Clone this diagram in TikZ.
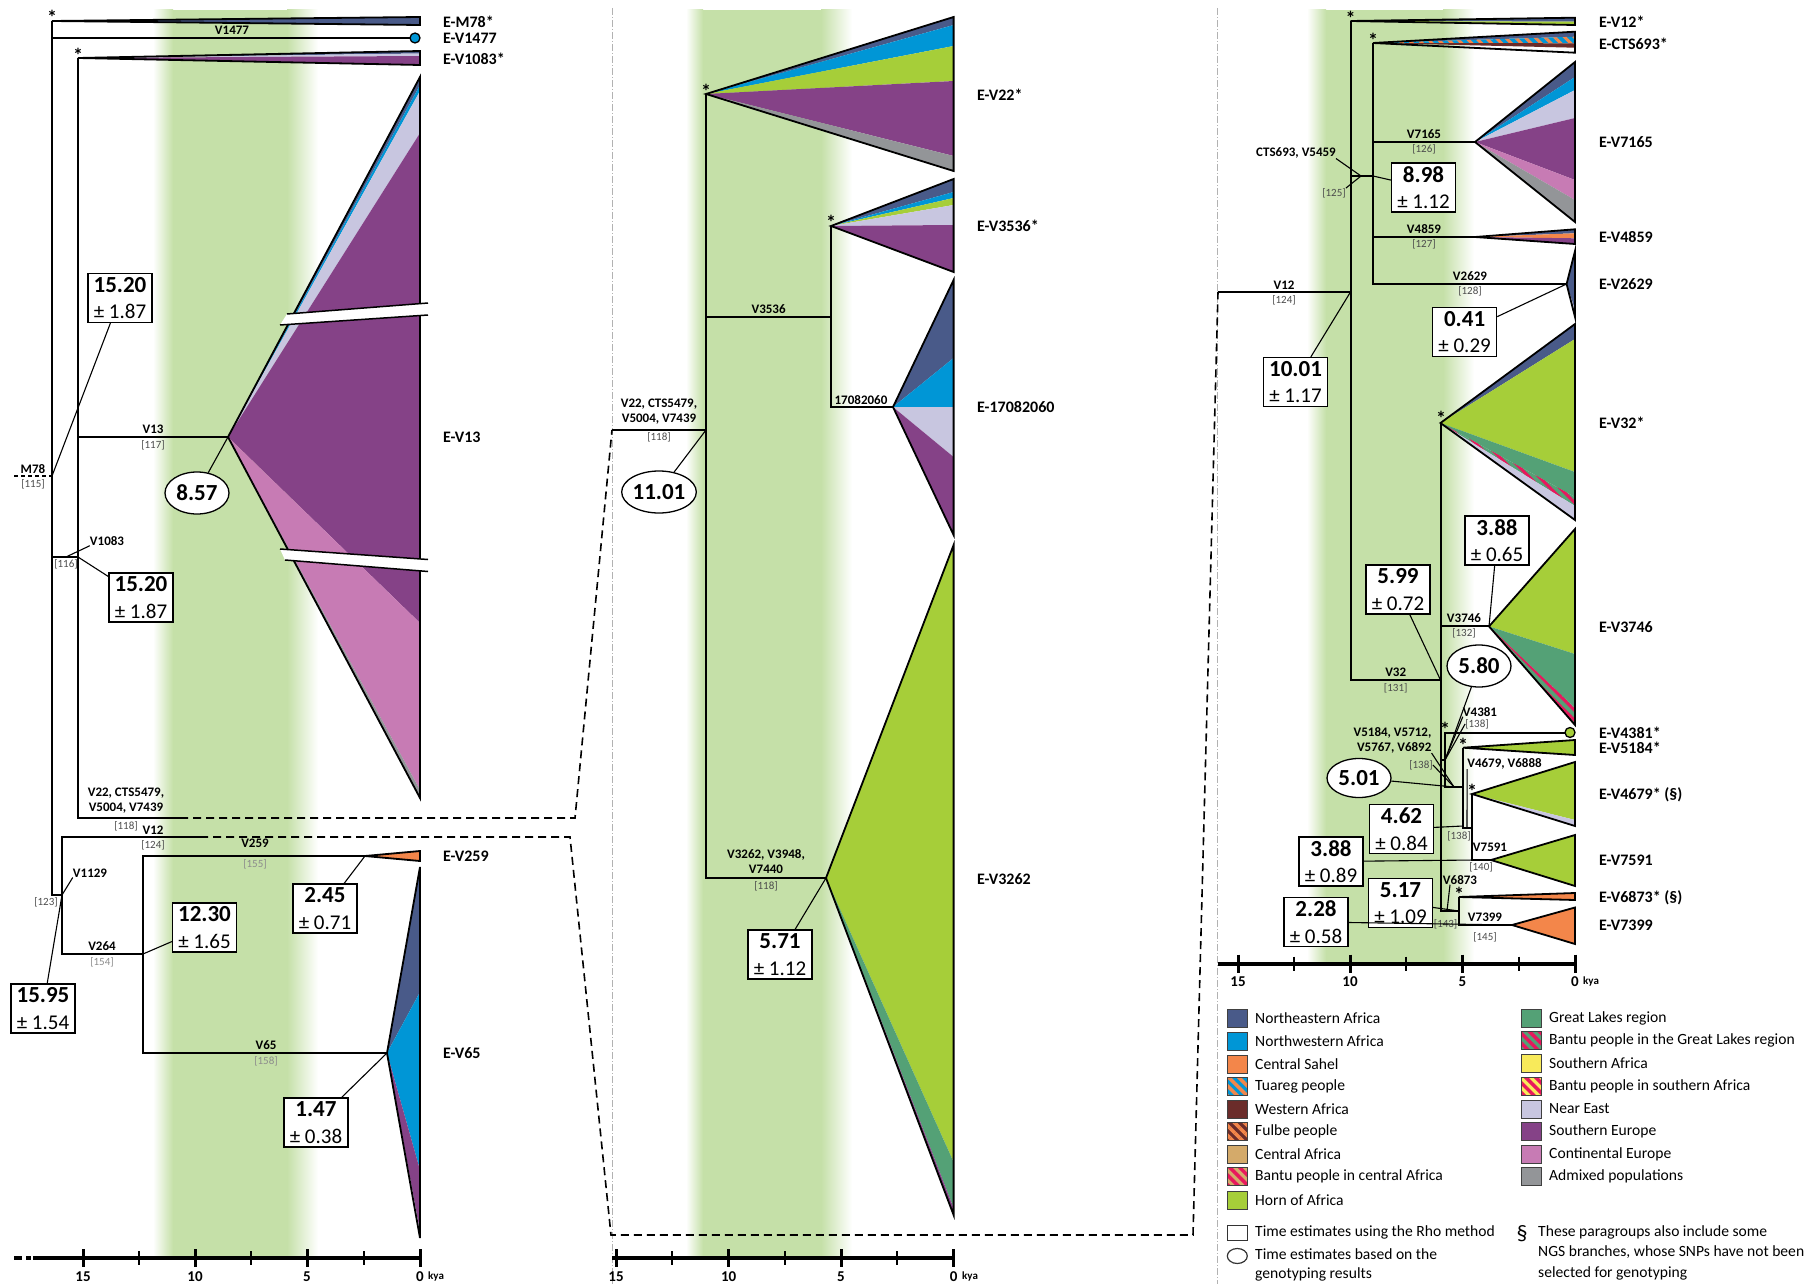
\documentclass[tikz,border=0pt]{standalone}
\usepackage{fontspec}
\setmainfont{Carlito}
\usetikzlibrary{shapes.geometric,patterns.meta}
\definecolor{cNE}{RGB}{73,90,137}
\definecolor{cNW}{RGB}{0,150,214}
\definecolor{cCS}{RGB}{243,134,74}
\definecolor{cWA}{RGB}{107,44,42}
\definecolor{cCA}{RGB}{212,170,106}
\definecolor{cHA}{RGB}{166,206,57}
\definecolor{cGL}{RGB}{84,161,118}
\definecolor{cRED}{RGB}{232,23,93}
\definecolor{cSA}{RGB}{248,234,90}
\definecolor{cNEa}{RGB}{200,198,224}
\definecolor{cSE}{RGB}{133,66,135}
\definecolor{cCE}{RGB}{199,123,180}
\definecolor{cAD}{RGB}{147,149,152}
\definecolor{gband}{RGB}{197,224,168}
\newcommand\fanp[6]{\fill[#1] (#2,#3) -- (#4,#5) -- (#4,#6) -- cycle;}
\newcommand\fanpat[7]{\fill[#1, postaction={pattern={Lines[angle=-45,distance=7pt,line width=3pt]}, pattern color=#2}] (#3,#4) -- (#5,#6) -- (#5,#7) -- cycle;}
\newcommand\fano[5]{\draw[tri] (#3,#4) -- (#1,#2) -- (#3,#5) -- cycle;}
\newcommand\agetxt[2]{{\bfseries\fontsize{23}{26.5}\selectfont #1}\\± #2}
\tikzset{
 br/.style={line width=2pt},
 dsh/.style={line width=1.6pt, dash pattern=on 8pt off 5pt},
 lead/.style={line width=1.1pt},
 tri/.style={line width=1.8pt, line join=miter},
 blab/.style={font=\fontsize{13}{14}\selectfont\bfseries, inner sep=0pt, align=center},
 rlab/.style={font=\fontsize{11}{12}\selectfont, text=black!70, inner sep=0pt},
 glab/.style={font=\fontsize{11}{12}\selectfont, text=black!45, inner sep=0pt},
 tiplab/.style={font=\fontsize{16}{17}\selectfont\bfseries, anchor=west, inner sep=0pt},
 starlab/.style={font=\fontsize{20}{20}\selectfont\bfseries, inner sep=0pt},
 agebox/.style={draw, line width=1.3pt, fill=white, minimum width=64pt, minimum height=49pt, inner sep=0pt, align=center, font=\fontsize{21}{26.5}\selectfont},
 ageell/.style={ellipse, draw, line width=1.3pt, fill=white, minimum width=64pt, minimum height=42pt, inner sep=0pt, font=\fontsize{23}{24}\selectfont\bfseries},
 axl/.style={font=\fontsize{15}{16}\selectfont\bfseries, inner sep=0pt},
 kyal/.style={font=\fontsize{11}{12}\selectfont\bfseries, inner sep=0pt, anchor=west},
 legt/.style={font=\fontsize{15.6}{17}\selectfont, anchor=west, inner sep=0pt},
 sw/.style={draw=black!75, line width=1pt, minimum width=19.5pt, minimum height=18pt, inner sep=0pt},
 swp/.style 2 args={minimum width=19.5pt, minimum height=18pt, inner sep=0pt, fill=#1, postaction={pattern={Lines[angle=-45,distance=7pt,line width=3.5pt]}, pattern color=#2}, postaction={draw=black!75,line width=1pt}},
 sep/.style={draw=black!30, line width=1pt, dash pattern=on 7pt off 2pt on 1pt off 2pt},
 axis/.style={line width=4pt},
 majt/.style={line width=3pt},
 mint/.style={line width=2pt},
}
\begin{document}
\begin{tikzpicture}[x=1pt,y=-1pt]
\useasboundingbox (0,0) rectangle (1816,1284);
% ---------- green bands ----------
\shade[left color=white, right color=gband] (153,10) rectangle (173,1258);
\fill[gband] (173,10) rectangle (287,1258);
\shade[left color=gband, right color=white] (287,10) rectangle (318,1258);
\shade[left color=white, right color=gband] (686,10) rectangle (703,1258);
\fill[gband] (703,10) rectangle (821,1258);
\shade[left color=gband, right color=white] (821,10) rectangle (852,1258);
\shade[left color=white, right color=gband] (1307,10) rectangle (1326,963);
\fill[gband] (1326,10) rectangle (1443,963);
\shade[left color=gband, right color=white] (1443,10) rectangle (1474,963);
% separators
\draw[sep] (612.5,8) -- (612.5,1284);
\draw[sep] (1217.7,8) -- (1217.7,1284);
% ---------- coordinates ----------
\coordinate (nM78) at (52,476);
\coordinate (sM78) at (14,476);
\coordinate (aM78) at (52,21);
\coordinate (eV1477) at (412,38);
\coordinate (nV1083) at (78,557);
\coordinate (m1083) at (66,557);
\coordinate (aV1083) at (78,58);
\coordinate (nV13) at (228,437);
\coordinate (dV22) at (78,818);
\coordinate (sV22) at (180,818);
\coordinate (kV22) at (575,818);
\coordinate (nV1129) at (62,895);
\coordinate (dV12) at (62,837);
\coordinate (sV12) at (200,837);
\coordinate (kV12a) at (570,837);
\coordinate (kV12b) at (611,1235);
\coordinate (kV12c) at (1193,1235);
\coordinate (nV264) at (143,954);
\coordinate (nV259) at (365,856);
\coordinate (nV65) at (387,1053);
\coordinate (nV22in) at (612,430);
\coordinate (nV22b) at (706,430);
\coordinate (aV22) at (706,94);
\coordinate (nV3536) at (831,317);
\coordinate (aV3536) at (831,226);
\coordinate (n1708) at (893,407);
\coordinate (nV3262) at (826,878);
\coordinate (nV12in) at (1218,292);
\coordinate (nV12) at (1350.5,292);
\coordinate (aV12) at (1350.5,21);
\coordinate (nCTS) at (1373,176);
\coordinate (mCTS) at (1361,176);
\coordinate (aCTS) at (1373,43);
\coordinate (nV7165) at (1475,142);
\coordinate (nV4859) at (1475,237);
\coordinate (nV2629) at (1566.6,284);
\coordinate (nV32) at (1440.5,680);
\coordinate (aV32) at (1440.5,423);
\coordinate (nV3746) at (1489,626.4);
\coordinate (nV4381) at (1445,760);
\coordinate (eV4381) at (1567,732.5);
\coordinate (nV5184) at (1463,787);
\coordinate (mV5184) at (1454,787);
\coordinate (pV5184) at (1463,826);
\coordinate (aV5184) at (1463,747.7);
\coordinate (nV4679) at (1472,828);
\coordinate (mV4679) at (1467,828);
\coordinate (aV4679) at (1472,794);
\coordinate (nV7591) at (1491,860);
\coordinate (pV7591) at (1475,860);
\coordinate (nV6873) at (1459,911);
\coordinate (mV6873) at (1447,911);
\coordinate (aV6873) at (1459,897);
\coordinate (nV7399) at (1512,925);
% ---------- wedges panel 1 ----------
\fanp{cNE}{52}{21}{420}{17}{25}
\fano{52}{21}{420}{17}{25}
\fanp{cNE}{78}{58}{420}{51}{53.5}
\fanp{cNEa}{78}{58}{420}{53.5}{56}
\fanp{cSE}{78}{58}{420}{56}{65}
\fano{78}{58}{420}{51}{65}
\fanp{cNE}{228}{437}{420}{77}{85}
\fanp{cNW}{228}{437}{420}{85}{91}
\fanp{cNEa}{228}{437}{420}{91}{133}
\fanp{cSE}{228}{437}{420}{133}{623}
\fanp{cCE}{228}{437}{420}{623}{790}
\fanp{cAD}{228}{437}{420}{790}{798}
\fano{228}{437}{420}{77}{798}
% break marks
\fill[white] (287,314) -- (428,303) -- (428,315) -- (280,325) -- cycle;
\draw[line width=1.5pt] (287,314) -- (428,303) (280,325) -- (428,315);
\fill[white] (280,549) -- (428,559.5) -- (428,571.5) -- (285,560) -- cycle;
\draw[line width=1.5pt] (280,549) -- (428,559.5) (285,560) -- (428,571.5);
\fanp{cCS}{365}{856}{420}{851}{861}
\fano{365}{856}{420}{851}{861}
\fanp{cNE}{387}{1053}{420}{867}{992}
\fanp{cNW}{387}{1053}{420}{992}{1170}
\fanp{cSE}{387}{1053}{420}{1170}{1232}
\fanp{cNEa}{387}{1053}{420}{1232}{1238}
\fano{387}{1053}{420}{867}{1238}
% ---------- wedges panel 2 ----------
\fanp{cNE}{706}{94}{953.6}{17}{25}
\fanp{cNW}{706}{94}{953.6}{25}{46}
\fanp{cHA}{706}{94}{953.6}{46}{81}
\fanp{cSE}{706}{94}{953.6}{81}{156}
\fanp{cAD}{706}{94}{953.6}{156}{171}
\fano{706}{94}{953.6}{17}{171}
\fanp{cNE}{831}{226}{953.6}{179}{192}
\fanp{cNW}{831}{226}{953.6}{192}{198}
\fanp{cHA}{831}{226}{953.6}{198}{205}
\fanp{cNEa}{831}{226}{953.6}{205}{225}
\fanp{cSE}{831}{226}{953.6}{225}{272}
\fano{831}{226}{953.6}{179}{272}
\fanp{cNE}{893}{407}{953.6}{280}{358}
\fanp{cNW}{893}{407}{953.6}{358}{407}
\fanp{cNEa}{893}{407}{953.6}{407}{457}
\fanp{cSE}{893}{407}{953.6}{457}{535}
\fano{893}{407}{953.6}{280}{535}
\fanp{cHA}{826}{878}{953.6}{545}{1162}
\fanp{cGL}{826}{878}{953.6}{1162}{1208}
\fanp{cSE}{826}{878}{953.6}{1208}{1215}
\fano{826}{878}{953.6}{545}{1215}
% ---------- wedges panel 3 ----------
\fanp{cNE}{1350.5}{21}{1575}{17.7}{21.7}
\fanp{cHA}{1350.5}{21}{1575}{21.7}{25}
\fano{1350.5}{21}{1575}{17.7}{25}
\fanp{cNE}{1373}{43}{1575}{31.7}{36.7}
\fanpat{cNW}{cCS}{1373}{43}{1575}{36.7}{43.3}
\fanp{cWA}{1373}{43}{1575}{43.3}{47.7}
\fano{1373}{43}{1575}{31.7}{52.7}
\fanp{cNE}{1475}{142}{1575}{62}{77}
\fanp{cNW}{1475}{142}{1575}{77}{90}
\fanp{cNEa}{1475}{142}{1575}{90}{118}
\fanp{cSE}{1475}{142}{1575}{118}{180}
\fanp{cCE}{1475}{142}{1575}{180}{200}
\fanp{cAD}{1475}{142}{1575}{200}{222}
\fano{1475}{142}{1575}{62}{222}
\fanp{cNE}{1475}{237}{1575}{229.3}{233.3}
\fanp{cCS}{1475}{237}{1575}{233.3}{238.3}
\fanp{cSE}{1475}{237}{1575}{238.3}{244}
\fano{1475}{237}{1575}{229.3}{244}
\fanp{cNE}{1566.6}{284}{1575}{251}{310}
\fanp{cNEa}{1566.6}{284}{1575}{310}{317}
\fano{1566.6}{284}{1575}{251}{317}
\fanp{cNE}{1440.5}{423}{1575}{324}{339}
\fanp{cHA}{1440.5}{423}{1575}{339}{472}
\fanp{cGL}{1440.5}{423}{1575}{472}{497}
\fanpat{cGL}{cRED}{1440.5}{423}{1575}{497}{506}
\fanp{cNEa}{1440.5}{423}{1575}{506}{520}
\fano{1440.5}{423}{1575}{324}{520}
\fanp{cHA}{1489}{626.4}{1575}{529}{654}
\fanp{cGL}{1489}{626.4}{1575}{654}{708}
\fanpat{cGL}{cRED}{1489}{626.4}{1575}{708}{725}
\fano{1489}{626.4}{1575}{529}{725}
\fanp{cHA}{1463}{747.7}{1575}{740}{755}
\fano{1463}{747.7}{1575}{740}{755}
\fanp{cHA}{1472}{794}{1575}{762}{820}
\fanp{cNEa}{1472}{794}{1575}{820}{826}
\fano{1472}{794}{1575}{762}{826}
\fanp{cHA}{1491}{860}{1575}{835}{886}
\fano{1491}{860}{1575}{835}{886}
\fanp{cCS}{1459}{897}{1575}{893}{900}
\fano{1459}{897}{1575}{893}{900}
\fanp{cCS}{1512}{925}{1575}{907.5}{944}
\fano{1512}{925}{1575}{907.5}{944}
% ---------- branches ----------
\draw[br, dash pattern=on 4pt off 3pt] (sM78) -- (nM78);
\draw[br] (nM78) |- (aM78) (nM78) |- (eV1477) (nM78) |- (nV1083) (nM78) |- (nV1129);
\draw[br] (nV1083) |- (aV1083) (nV1083) |- (nV13) (nV1083) -- (dV22) -- (sV22);
\draw[dsh] (sV22) -- (kV22) -- (nV22in);
\draw[br] (nV1129) |- (dV12) -- (sV12) (nV1129) |- (nV264);
\draw[dsh] (sV12) -- (kV12a) -- (kV12b) -- (kV12c) -- (nV12in);
\draw[br] (nV264) |- (nV259) (nV264) |- (nV65);
\draw[br] (nV22in) -- (nV22b) (nV22b) |- (aV22) (nV22b) |- (nV3536) (nV22b) |- (nV3262);
\draw[br] (nV3536) |- (aV3536) (nV3536) |- (n1708);
\draw[br] (nV12in) -- (nV12) (nV12) |- (aV12) (nV12) |- (nCTS) (nV12) |- (nV32);
\draw[br] (nCTS) |- (aCTS) (nCTS) |- (nV7165) (nCTS) |- (nV4859) (nCTS) |- (nV2629);
\draw[br] (nV32) |- (aV32) (nV32) |- (nV3746) (nV32) |- (nV4381) (nV32) |- (nV6873);
\draw[br] (nV4381) |- (eV4381) (nV4381) |- (nV5184);
\draw[br] (nV5184) |- (aV5184) (nV5184) |- (nV4679);
\draw[br] (nV4679) |- (aV4679) (nV4679) |- (nV7591);
\draw[br] (nV6873) |- (aV6873) (nV6873) |- (nV7399);
\node[circle, draw, line width=1.3pt, fill=cNW, minimum size=10pt, inner sep=0pt] (cV1477) at (415,38) {};
\node[circle, draw, line width=1.3pt, fill=cHA, minimum size=10pt, inner sep=0pt] (cV4381) at (1570,732.5) {};
% ---------- stars ----------
\node[starlab] (st1) at (52,17) {*};
\node[starlab] (st2) at (78,55) {*};
\node[starlab] (st3) at (706,91) {*};
\node[starlab] (st4) at (831,222) {*};
\node[starlab] (st5) at (1350.5,18) {*};
\node[starlab] (st6) at (1373,40) {*};
\node[starlab] (st7) at (1441,418) {*};
\node[starlab] (st8) at (1445,729) {*};
\node[starlab] (st9) at (1463,745) {*};
\node[starlab] (st10) at (1472,791) {*};
\node[starlab] (st11) at (1459,894) {*};
% ---------- branch labels panel 1 ----------
\node[blab] (lV1477) at (232,30) {V1477};
\node[blab] (lM78) at (33,469) {M78};
\node[rlab] (rM78) at (33,484) {[115]};
\node[blab] (lV13) at (153,429) {V13};
\node[rlab] (rV13) at (153,445) {[117]};
\node[blab] (lV1083) at (107,541) {V1083};
\node[rlab] (rV1083) at (66,564) {[116]};
\node[blab] (lV22a) at (126,800.5) {V22, CTS5479,\\[1pt]V5004, V7439};
\node[rlab] (rV22a) at (126,826) {[118]};
\node[blab] (lV12a) at (153,830) {V12};
\node[rlab] (rV12a) at (153,845) {[124]};
\node[blab] (lV1129) at (90,873) {V1129};
\node[rlab] (rV1129) at (46,902) {[123]};
\node[blab] (lV259) at (255,843) {V259};
\node[glab] (rV259) at (255,864) {[155]};
\node[blab] (lV264) at (102,946) {V264};
\node[glab] (rV264) at (102,962) {[154]};
\node[blab] (lV65) at (266,1045) {V65};
\node[glab] (rV65) at (266,1061) {[158]};
% ---------- branch labels panel 2 ----------
\node[blab] (lV22b) at (659,412) {V22, CTS5479,\\[1pt]V5004, V7439};
\node[rlab] (rV22b) at (659,437) {[118]};
\node[blab] (lV3536) at (768.6,309) {V3536};
\node[blab] (l1708) at (861,400) {17082060};
\node[blab] (lV3262) at (766,862) {V3262, V3948,\\[1pt]V7440};
\node[rlab] (rV3262) at (766,886) {[118]};
% ---------- branch labels panel 3 ----------
\node[blab] (lV12) at (1284,285) {V12};
\node[rlab] (rV12) at (1284,300) {[124]};
\node[blab] (lCTS) at (1296,153) {CTS693, V5459};
\node[rlab] (rCTS) at (1334,193) {[125]};
\node[blab] (lV7165) at (1424,134) {V7165};
\node[rlab] (rV7165) at (1424,149) {[126]};
\node[blab] (lV4859) at (1424,229) {V4859};
\node[rlab] (rV4859) at (1424,244) {[127]};
\node[blab] (lV2629) at (1470,276) {V2629};
\node[rlab] (rV2629) at (1470,291) {[128]};
\node[blab] (lV32) at (1395.7,672) {V32};
\node[rlab] (rV32) at (1395.7,688) {[131]};
\node[blab] (lV3746) at (1464,618.6) {V3746};
\node[rlab] (rV3746) at (1464,633.6) {[132]};
\node[blab] (lV4381) at (1480,712) {V4381};
\node[rlab] (rV4381) at (1477,724) {[138]};
\node[blab, align=right] (lV5184) at (1392.5,740) {V5184, V5712,\\[1pt]V5767, V6892};
\node[rlab] (rV5184) at (1421,765) {[138]};
\node[blab] (lV4679) at (1504.5,763.6) {V4679, V6888};
\node[rlab] (rV4679) at (1459,836) {[138]};
\node[blab] (lV7591) at (1490,847.5) {V7591};
\node[rlab] (rV7591) at (1481,867) {[140]};
\node[blab] (lV6873) at (1460,880) {V6873};
\node[rlab] (rV6873) at (1445.6,924) {[143]};
\node[blab] (lV7399) at (1485,917.5) {V7399};
\node[rlab] (rV7399) at (1485,937) {[145]};
% ---------- tip labels ----------
\node[tiplab] (tM78) at (443,22) {E-M78*};
\node[tiplab] (tV1477) at (443,38) {E-V1477};
\node[tiplab] (tV1083) at (443,59) {E-V1083*};
\node[tiplab] (tV13) at (443,437) {E-V13};
\node[tiplab] (tV259) at (443,856) {E-V259};
\node[tiplab] (tV65) at (443,1053) {E-V65};
\node[tiplab] (tV22) at (977,95) {E-V22*};
\node[tiplab] (tV3536) at (977,226) {E-V3536*};
\node[tiplab] (t1708) at (977,407) {E-17082060};
\node[tiplab] (tV3262) at (977,879) {E-V3262};
\node[tiplab] (tV12) at (1599,22) {E-V12*};
\node[tiplab] (tCTS) at (1599,44) {E-CTS693*};
\node[tiplab] (tV7165) at (1599,142) {E-V7165};
\node[tiplab] (tV4859) at (1599,237) {E-V4859};
\node[tiplab] (tV2629) at (1599,284) {E-V2629};
\node[tiplab] (tV32) at (1599,423) {E-V32*};
\node[tiplab] (tV3746) at (1599,627) {E-V3746};
\node[tiplab] (tV4381) at (1599,733) {E-V4381*};
\node[tiplab] (tV5184) at (1599,747.5) {E-V5184*};
\node[tiplab] (tV4679) at (1599,795) {E-V4679* (§)};
\node[tiplab] (tV7591) at (1599,860) {E-V7591};
\node[tiplab] (tV6873) at (1599,897.5) {E-V6873* (§)};
\node[tiplab] (tV7399) at (1599,925) {E-V7399};
% ---------- age boxes and ellipses ----------
\node[agebox] (b1520a) at (120,298) {\agetxt{15.20}{1.87}};
\node[agebox] (b1520b) at (141,597.5) {\agetxt{15.20}{1.87}};
\node[agebox] (b1595) at (43,1008.5) {\agetxt{15.95}{1.54}};
\node[agebox] (b1230) at (204.5,927.5) {\agetxt{12.30}{1.65}};
\node[agebox] (b245) at (325,908.5) {\agetxt{2.45}{0.71}};
\node[agebox] (b147) at (316,1122.5) {\agetxt{1.47}{0.38}};
\node[ageell] (e857) at (197,493) {8.57};
\node[ageell] (e1101) at (659,492) {11.01};
\node[agebox] (b571) at (780,954.5) {\agetxt{5.71}{1.12}};
\node[agebox] (b898) at (1423.5,187.5) {\agetxt{8.98}{1.12}};
\node[agebox] (b041) at (1464.6,332) {\agetxt{0.41}{0.29}};
\node[agebox] (b1001) at (1295.5,382) {\agetxt{10.01}{1.17}};
\node[agebox] (b599) at (1398,589.5) {\agetxt{5.99}{0.72}};
\node[agebox] (b388a) at (1497,540.5) {\agetxt{3.88}{0.65}};
\node[ageell] (e580) at (1479,666) {5.80};
\node[ageell, minimum height=39pt] (e501) at (1359,778) {5.01};
\node[agebox] (b462) at (1401.5,829) {\agetxt{4.62}{0.84}};
\node[agebox] (b388b) at (1331,861.5) {\agetxt{3.88}{0.89}};
\node[agebox] (b517) at (1400.5,903) {\agetxt{5.17}{1.09}};
\node[agebox] (b228) at (1316,922) {\agetxt{2.28}{0.58}};
% ---------- leaders ----------
\draw[lead] (b1520a) -- (nM78);
\draw[lead] (e857) -- (nV13);
\draw[lead] (b1520b) -- (nV1083);
\draw[lead] (lV1083.south west) -- (m1083);
\draw[lead] (lV1129.south west) -- (nV1129);
\draw[lead] (b1595) -- (nV1129);
\draw[lead] (b1230) -- (nV264);
\draw[lead] (b245) -- (nV259);
\draw[lead] (b147) -- (nV65);
\draw[lead] (e1101) -- (nV22b);
\draw[lead] (b571) -- (nV3262);
\draw[lead] (lCTS.south east) -- (mCTS);
\draw[lead] (rCTS.north east) -- (mCTS);
\draw[lead] (b898) -- (nCTS);
\draw[lead] (b041) -- (nV2629);
\draw[lead] (b1001) -- (nV12);
\draw[lead] (b599) -- (nV32);
\draw[lead] (b388a) -- (nV3746);
\draw[lead] (e580) -- (nV4381);
\draw[lead] (lV4381.south west) -- (nV4381);
\draw[lead] (rV4381.west) -- (nV4381);
\draw[lead] (lV5184.south east) -- (mV5184);
\draw[lead] (rV5184.east) -- (mV5184);
\draw[lead] (e501) -- (mV5184);
\draw[lead] (b462) -- (pV5184);
\draw[lead] (lV4679.south west) -- (mV4679);
\draw[lead] (b388b) -- (pV7591);
\draw[lead] ([xshift=-10pt]lV6873.south) -- (mV6873);
\draw[lead] (b517) -- (nV6873);
\draw[lead] (b228) -- (nV7399);
% ---------- axes ----------
\draw[axis] (14,1258) -- (22,1258) (26,1258) -- (31,1258) (33,1258) -- (420,1258);
\foreach \x in {83,195,307,420} \draw[majt] (\x,1249) -- (\x,1267);
\foreach \x in {139,251,364} \draw[mint] (\x,1251) -- (\x,1265);
\node[axl] (a1a) at (83,1277) {15};
\node[axl] (a1b) at (195,1277) {10};
\node[axl] (a1c) at (307,1277) {5};
\node[axl] (a1d) at (420,1277) {0};
\node[kyal] (k1) at (428,1276) {kya};
\draw[axis] (612,1258) -- (953.6,1258);
\foreach \x in {616,728.6,841,953.6} \draw[majt] (\x,1249) -- (\x,1267);
\foreach \x in {672,785,897} \draw[mint] (\x,1251) -- (\x,1265);
\node[axl] (a2a) at (616,1277) {15};
\node[axl] (a2b) at (728.6,1277) {10};
\node[axl] (a2c) at (841,1277) {5};
\node[axl] (a2d) at (953.6,1277) {0};
\node[kyal] (k2) at (962,1276) {kya};
\draw[axis] (1218,963.6) -- (1575,963.6);
\foreach \x in {1238,1350,1462.5,1575} \draw[majt] (\x,954.6) -- (\x,972.6);
\foreach \x in {1294,1406,1519} \draw[mint] (\x,956.6) -- (\x,970.6);
\node[axl] (a3a) at (1238,982) {15};
\node[axl] (a3b) at (1350,982) {10};
\node[axl] (a3c) at (1462.5,982) {5};
\node[axl] (a3d) at (1575,982) {0};
\node[kyal] (k3) at (1583,981) {kya};
% ---------- legend ----------
\node[sw, fill=cNE] (s1) at (1237.3,1018) {};
\node[legt] at (1255,1018) {Northeastern Africa};
\node[sw, fill=cNW] (s2) at (1237.3,1041) {};
\node[legt] at (1255,1041) {Northwestern Africa};
\node[sw, fill=cCS] (s3) at (1237.3,1064) {};
\node[legt] at (1255,1064) {Central Sahel};
\node[swp={cNW}{cCS}] (s4) at (1237.3,1086) {};
\node[legt] at (1255,1086) {Tuareg people};
\node[sw, fill=cWA] (s5) at (1237.3,1109) {};
\node[legt] at (1255,1109) {Western Africa};
\node[swp={cWA}{cCS}] (s6) at (1237.3,1131) {};
\node[legt] at (1255,1131) {Fulbe people};
\node[sw, fill=cCA] (s7) at (1237.3,1154) {};
\node[legt] at (1255,1154) {Central Africa};
\node[swp={cCA}{cRED}] (s8) at (1237.3,1176) {};
\node[legt] at (1255,1176) {Bantu people in central Africa};
\node[sw, fill=cHA] (s9) at (1237.3,1200) {};
\node[legt] at (1255,1200) {Horn of Africa};
\node[sw, fill=cGL] (s10) at (1531.5,1018) {};
\node[legt] at (1549,1018) {Great Lakes region};
\node[swp={cGL}{cRED}] (s11) at (1531.5,1040) {};
\node[legt] at (1549,1040) {Bantu people in the Great Lakes region};
\node[sw, fill=cSA] (s12) at (1531.5,1063) {};
\node[legt] at (1549,1063) {Southern Africa};
\node[swp={cSA}{cRED}] (s13) at (1531.5,1086) {};
\node[legt] at (1549,1086) {Bantu people in southern Africa};
\node[sw, fill=cNEa] (s14) at (1531.5,1109) {};
\node[legt] at (1549,1109) {Near East};
\node[sw, fill=cSE] (s15) at (1531.5,1131) {};
\node[legt] at (1549,1131) {Southern Europe};
\node[sw, fill=cCE] (s16) at (1531.5,1154) {};
\node[legt] at (1549,1154) {Continental Europe};
\node[sw, fill=cAD] (s17) at (1531.5,1176) {};
\node[legt] at (1549,1176) {Admixed populations};
\node[draw=black!80, line width=1pt, minimum width=19.5pt, minimum height=15pt, inner sep=0pt] (lr) at (1237.3,1232.5) {};
\node[legt] at (1255,1232) {Time estimates using the Rho method};
\node[ellipse, draw=black!80, line width=1.2pt, minimum width=20pt, minimum height=15pt, inner sep=0pt] (lc) at (1237.3,1256) {};
\node[legt] at (1255,1254) {Time estimates based on the};
\node[legt] at (1255,1274) {genotyping results};
\node[font=\fontsize{22}{22}\selectfont, inner sep=0pt] (sect) at (1522,1234) {§};
\node[legt] at (1538,1232) {These paragroups also include some};
\node[legt] at (1538,1252) {NGS branches, whose SNPs have not been};
\node[legt] at (1538,1273) {selected for genotyping};
\end{tikzpicture}
\end{document}
